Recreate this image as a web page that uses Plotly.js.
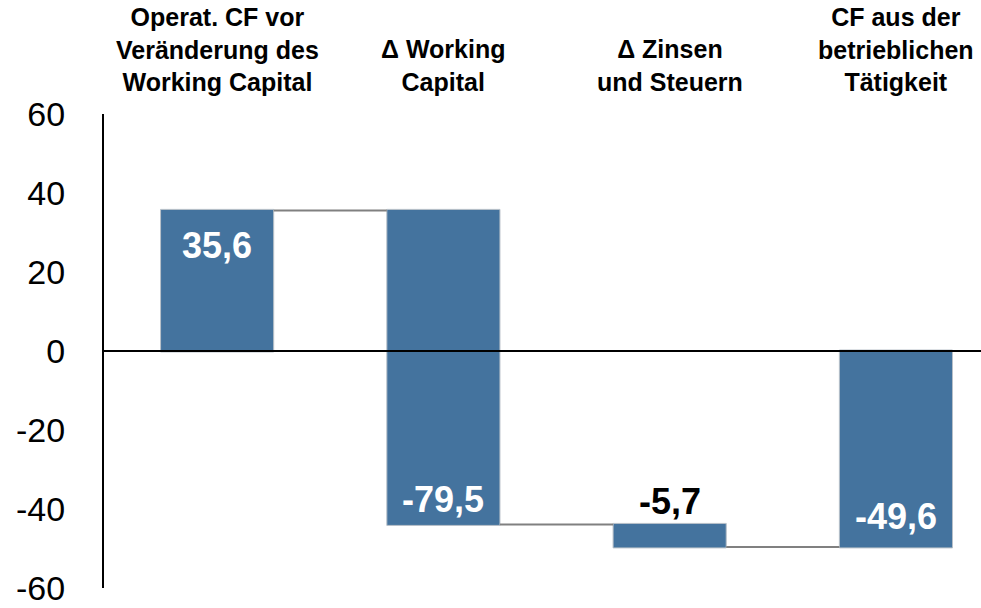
<!DOCTYPE html>
<html>
<head>
<meta charset="utf-8">
<script src="https://cdn.plot.ly/plotly-3.0.1.min.js"></script>
<style>html,body{margin:0;padding:0;background:#fff;}#chart{width:981px;height:608px;}</style>
</head>
<body>
<div id="chart"></div>
<script>
var categories = ["c1", "c2", "c3", "c4"];
var headers = [
  "Operat. CF vor<br>Veränderung des<br>Working Capital",
  "\u0394 Working<br>Capital",
  "\u0394 Zinsen<br>und Steuern",
  "CF aus der<br>betrieblichen<br>Tätigkeit"
];
var measures = ["relative", "relative", "relative", "total"];
var values = [35.6, -79.5, -5.7, -49.6];
var valueLabels = ["35,6", "-79,5", "-5,7", "-49,6"];
var labelColors = ["#ffffff", "#ffffff", "#000000", "#ffffff"];
var labelShifts = [-35, 25, 0, 30];
var yTicks = [60, 40, 20, 0, -20, -40, -60];

var barColor = "#44739e";
var fontFam = "Liberation Sans, Arial, sans-serif";

// compute bar extents from data for labels
var running = 0, tops = [], bottoms = [];
for (var i = 0; i < values.length; i++) {
  var start, end;
  if (measures[i] === "total") { start = 0; end = values[i]; }
  else { start = running; end = running + values[i]; running = end; }
  tops.push(Math.max(start, end));
  bottoms.push(Math.min(start, end));
}

var annotations = [];
for (var i = 0; i < categories.length; i++) {
  annotations.push({
    x: categories[i], xref: "x", y: 1, yref: "paper",
    yanchor: "bottom", yshift: 16, showarrow: false,
    text: "<b>" + headers[i] + "</b>",
    font: {family: fontFam, size: 25, color: "#000"}, align: "center"
  });
}
// value labels
annotations.push({x: categories[0], y: tops[0], yanchor: "middle", yshift: labelShifts[0], showarrow: false,
  text: "<b>" + valueLabels[0] + "</b>", font: {family: fontFam, size: 36, color: labelColors[0]}});
annotations.push({x: categories[1], y: bottoms[1], yanchor: "middle", yshift: labelShifts[1], showarrow: false,
  text: "<b>" + valueLabels[1] + "</b>", font: {family: fontFam, size: 36, color: labelColors[1]}});
annotations.push({x: categories[2], y: tops[2], yanchor: "bottom", yshift: 0, showarrow: false,
  text: "<b>" + valueLabels[2] + "</b>", font: {family: fontFam, size: 36, color: labelColors[2]}});
annotations.push({x: categories[3], y: bottoms[3], yanchor: "middle", yshift: labelShifts[3], showarrow: false,
  text: "<b>" + valueLabels[3] + "</b>", font: {family: fontFam, size: 36, color: labelColors[3]}});

var trace = {
  type: "waterfall",
  x: categories,
  y: values,
  measure: measures,
  width: 0.5,
  textinfo: "none",
  hoverinfo: "skip",
  increasing: {marker: {color: barColor, line: {color: "#b8c0c8", width: 1}}},
  decreasing: {marker: {color: barColor, line: {color: "#b8c0c8", width: 1}}},
  totals: {marker: {color: barColor, line: {color: "#b8c0c8", width: 1}}},
  connector: {line: {color: "#808080", width: 2}, mode: "between"}
};

var layout = {
  width: 981, height: 608,
  margin: {l: 104, r: 0, t: 114, b: 20},
  paper_bgcolor: "#fff", plot_bgcolor: "#fff",
  showlegend: false,
  font: {family: fontFam, color: "#000"},
  xaxis: {
    type: "category", range: [-0.5, 3.376],
    showticklabels: false, showline: false, showgrid: false, zeroline: false, ticks: ""
  },
  yaxis: {
    range: [-60, 60], tickvals: yTicks, ticktext: yTicks.map(String),
    showgrid: false, zeroline: false, showline: true, linecolor: "#000", linewidth: 2,
    ticks: "", ticklabelstandoff: 30, ticklabeloverflow: "allow",
    tickfont: {family: fontFam, size: 34, color: "#000"}
  },
  shapes: [{type: "line", xref: "paper", x0: 0, x1: 1, yref: "y", y0: 0, y1: 0,
    line: {color: "#000", width: 2}, layer: "above"}],
  annotations: annotations
};

Plotly.newPlot("chart", [trace], layout, {displayModeBar: false, staticPlot: true});
</script>
</body>
</html>
